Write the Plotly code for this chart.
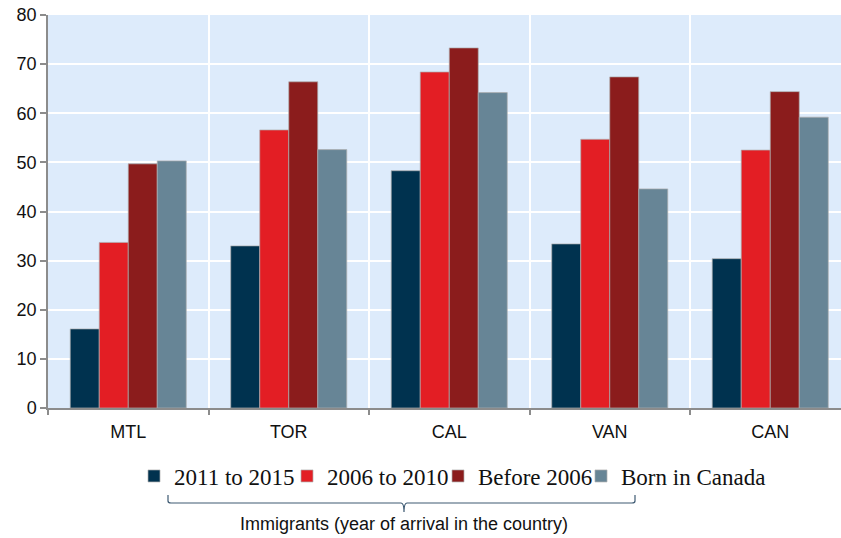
import plotly.graph_objects as go

# Share of population (%) by city and immigrant arrival period
cities = ["MTL", "TOR", "CAL", "VAN", "CAN"]
series_names = ["2011 to 2015", "2006 to 2010", "Before 2006", "Born in Canada"]
arrived_2011_2015 = [16.1, 33.0, 48.3, 33.4, 30.4]
arrived_2006_2010 = [33.7, 56.6, 68.4, 54.7, 52.5]
arrived_before_2006 = [49.7, 66.4, 73.3, 67.4, 64.4]
born_in_canada = [50.3, 52.6, 64.2, 44.6, 59.2]
y_ticks = [0, 10, 20, 30, 40, 50, 60, 70, 80]

series_values = [arrived_2011_2015, arrived_2006_2010, arrived_before_2006, born_in_canada]
colors = ["#00324F", "#E31E24", "#8B1C1C", "#678596"]

W, H = 841, 538
L, R, T, B = 48, 0, 15, 130
PW, PH = W - L - R, H - T - B


def px(x):
    return (x - L) / PW


def py(y):
    return (H - B - y) / PH


x_pos = list(range(len(cities)))
legend_ids = ["legend", "legend2", "legend3", "legend4"]
legend_text_left = [174, 327, 478, 621]

fig = go.Figure()
for name, vals, col, lid in zip(series_names, series_values, colors, legend_ids):
    fig.add_trace(go.Bar(
        x=x_pos, y=vals, name=name, legend=lid,
        marker=dict(color=col, line=dict(color="rgba(175,175,175,0.7)", width=1)),
    ))

# Bracket grouping the three immigrant series in the legend
bx0, bx1, bxm = 168, 635, 404
ytop, yline, ytip = 495, 503, 512
path = (
    f"M {px(bx0)},{py(ytop)} L {px(bx0)},{py(yline - 2)} "
    f"Q {px(bx0)},{py(yline)} {px(bx0 + 3)},{py(yline)} "
    f"L {px(bxm - 3)},{py(yline)} Q {px(bxm)},{py(yline)} {px(bxm)},{py(ytip)} "
    f"Q {px(bxm)},{py(yline)} {px(bxm + 3)},{py(yline)} "
    f"L {px(bx1 - 3)},{py(yline)} Q {px(bx1)},{py(yline)} {px(bx1)},{py(yline - 2)} "
    f"L {px(bx1)},{py(ytop)}"
)
fig.add_shape(type="path", path=path, xref="paper", yref="paper",
              line=dict(color="#3E5A73", width=1.2))

fig.add_annotation(
    text="Immigrants (year of arrival in the country)",
    x=px(bxm), y=py(524), xref="paper", yref="paper",
    xanchor="center", yanchor="middle", showarrow=False,
    font=dict(family="Liberation Sans, Arial", size=18, color="#111"),
)

legend_style = dict(
    orientation="h", yanchor="middle", y=py(476), xanchor="left",
    font=dict(family="Liberation Serif, Times New Roman", size=23, color="#111"),
    itemwidth=30, bgcolor="rgba(0,0,0,0)", borderwidth=0,
)
legends = {lid: dict(legend_style, x=px(tx - 40)) for lid, tx in zip(legend_ids, legend_text_left)}

fig.update_layout(
    width=W, height=H,
    margin=dict(l=L, r=R, t=T, b=B, pad=0),
    paper_bgcolor="white",
    plot_bgcolor="#DDEBFB",
    barmode="group",
    bargap=0.277,
    bargroupgap=0,
    showlegend=True,
    **legends,
    xaxis=dict(
        range=[-0.5, -0.5 + PW / 160.5],
        tickmode="array", tickvals=x_pos, ticktext=cities,
        ticks="", showgrid=False,
        showline=True, linecolor="#8C8C8C", linewidth=1.5,
        tickfont=dict(family="Liberation Sans, Arial", size=18, color="#111"),
        ticklabelstandoff=7,
        minor=dict(tickmode="array", tickvals=[i - 0.5 for i in range(len(cities) + 1)],
                   ticks="outside", ticklen=5, tickcolor="#8C8C8C", tickwidth=1.5,
                   showgrid=True, gridcolor="white", gridwidth=1.5),
        zeroline=False, fixedrange=True,
    ),
    yaxis=dict(
        range=[0, 80], tickmode="array", tickvals=y_ticks,
        ticks="outside", ticklen=6, tickcolor="#8C8C8C", tickwidth=1.5,
        showline=True, linecolor="#8C8C8C", linewidth=1.5,
        showgrid=True, gridcolor="white", gridwidth=1.5,
        zeroline=False,
        tickfont=dict(family="Liberation Sans, Arial", size=18, color="#111"),
    ),
)

fig.write_html("out.html")
